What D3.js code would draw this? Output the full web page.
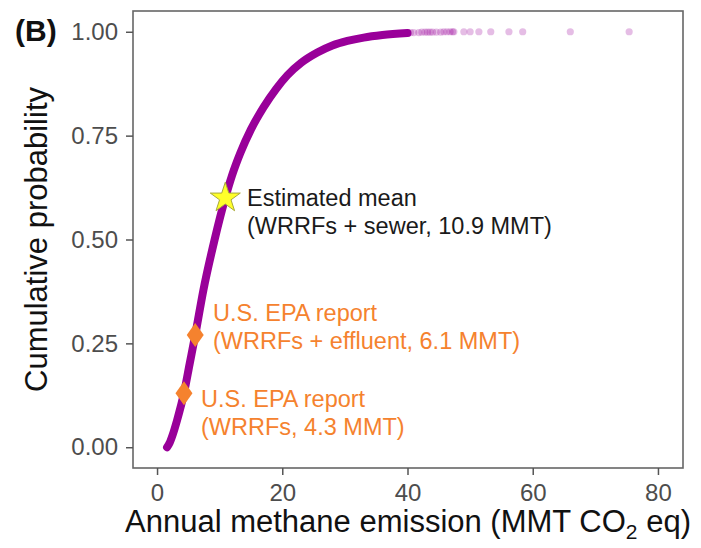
<!DOCTYPE html>
<html>
<head>
<meta charset="utf-8">
<script src="https://cdn.jsdelivr.net/npm/d3@7"></script>
<style>
  html, body { margin: 0; padding: 0; background: #fff; }
  svg { display: block; font-family: "Liberation Sans", Arial, sans-serif; }
</style>
</head>
<body>
<svg id="chart" width="701" height="548"></svg>
<script>
// ---- data ----
const curveEmission = [1.6, 2.0, 2.5, 3.2, 4.3, 5.2, 6.1, 7.4, 9.2, 10.9, 12.0, 13.3, 15.0, 17.0, 19.0, 20.8, 23.0, 25.6, 28.0, 30.4, 33.0, 36.0, 40.0];
const curveProb     = [0.0, 0.01, 0.03, 0.065, 0.13, 0.2, 0.27, 0.378, 0.5, 0.60, 0.655, 0.708, 0.765, 0.818, 0.862, 0.895, 0.925, 0.95, 0.967, 0.978, 0.986, 0.992, 0.997];
const tailEmission  = [40.5, 41, 41.8, 42.3, 42.8, 43.2, 43.6, 44, 44.6, 45.3, 45.8, 46.3, 46.8, 47.2, 47.4, 49, 50, 51.4, 53.3, 56.2, 58.4, 66, 75.4];
const tailProb      = [0.998, 0.998, 0.998, 0.999, 0.999, 0.999, 0.999, 0.999, 0.999, 0.999, 1, 1, 1, 1, 1, 1, 1, 1, 1, 1, 1, 1, 1];

const markerLabels = ["Estimated mean", "U.S. EPA report", "U.S. EPA report"];
const markerNotes  = ["(WRRFs + sewer, 10.9 MMT)", "(WRRFs + effluent, 6.1 MMT)", "(WRRFs, 4.3 MMT)"];
const markerEmission = [10.9, 6.1, 4.3];
const markerProb     = [0.60, 0.27, 0.13];
const markerKind     = ["star", "diamond", "diamond"];

const xTicks = [0, 20, 40, 60, 80];
const yTicks = [0, 0.25, 0.5, 0.75, 1.0];
const xTitle = "Annual methane emission (MMT CO";
const yTitle = "Cumulative probability";
const panelTag = "(B)";

// ---- layout ----
const svg = d3.select("#chart");
const P = { left: 133, right: 683, top: 11, bottom: 468 };
const x = d3.scaleLinear().domain([-3.84, 84]).range([P.left, P.right]);
const y = d3.scaleLinear().domain([-0.05, 1.05]).range([P.bottom, P.top]);

const purple = "#990099";
const orange = "#f5822e";

// curve (dense Monte Carlo points drawn as a thick band)
const pts = curveEmission.map((e, i) => [e, curveProb[i]]);
svg.append("path")
  .datum(pts)
  .attr("d", d3.line().x(d => x(d[0])).y(d => y(d[1])).curve(d3.curveMonotoneX))
  .attr("fill", "none")
  .attr("stroke", purple)
  .attr("stroke-width", 8)
  .attr("stroke-linecap", "round")
  .attr("stroke-linejoin", "round");

// sparse tail points
svg.append("g").selectAll("circle")
  .data(tailEmission.map((e, i) => [e, tailProb[i]]))
  .join("circle")
  .attr("cx", d => x(d[0]))
  .attr("cy", d => y(d[1]))
  .attr("r", 3.6)
  .attr("fill", purple)
  .attr("fill-opacity", 0.26);

// panel border
svg.append("rect")
  .attr("x", P.left).attr("y", P.top)
  .attr("width", P.right - P.left).attr("height", P.bottom - P.top)
  .attr("fill", "none").attr("stroke", "#666").attr("stroke-width", 1.6);

// axes
const xAxis = svg.append("g")
  .attr("transform", `translate(0,${P.bottom})`)
  .call(d3.axisBottom(x).tickValues(xTicks).tickFormat(d3.format("d")).tickSize(7).tickPadding(9));
const yAxis = svg.append("g")
  .attr("transform", `translate(${P.left},0)`)
  .call(d3.axisLeft(y).tickValues(yTicks).tickFormat(d3.format(".2f")).tickSize(7).tickPadding(8));
[xAxis, yAxis].forEach(g => {
  g.select(".domain").remove();
  g.selectAll(".tick line").attr("stroke", "#555").attr("stroke-width", 1.5);
  g.selectAll(".tick text").attr("fill", "#4d4d4d").attr("font-size", 24)
    .attr("font-family", "'Liberation Sans', Arial, sans-serif");
});

// markers
const starPath = d3.symbol(d3.symbolStar).size(280)();
const diamondPath = "M0,-12L8.5,0L0,12L-8.5,0Z";
const mk = svg.append("g");
markerEmission.forEach((e, i) => {
  const g = mk.append("g").attr("transform", `translate(${x(e)},${y(markerProb[i])})`);
  if (markerKind[i] === "star") {
    g.append("path").attr("d", starPath).attr("fill", "#ffff2a").attr("stroke", "#a8a83c").attr("stroke-width", 1);
  } else {
    g.append("path").attr("d", diamondPath).attr("fill", orange);
  }
});

// annotation text
const labelPos = [ {x: 247, y: 206}, {x: 213, y: 321}, {x: 201, y: 407} ];
const labelCol = ["#1a1a1a", orange, orange];
markerLabels.forEach((t, i) => {
  const tx = svg.append("text")
    .attr("x", labelPos[i].x).attr("y", labelPos[i].y)
    .attr("font-size", 23.5).attr("fill", labelCol[i]);
  tx.append("tspan").attr("x", labelPos[i].x).text(t);
  tx.append("tspan").attr("x", labelPos[i].x).attr("dy", 28).text(markerNotes[i]);
});

// axis titles
const xt = svg.append("text")
  .attr("x", (P.left + P.right) / 2).attr("y", 532)
  .attr("text-anchor", "middle")
  .attr("font-size", 31).attr("fill", "#111");
xt.append("tspan").text(xTitle);
xt.append("tspan").attr("font-size", 21).attr("dy", 7).text("2");
xt.append("tspan").attr("dy", -7).text(" eq)");

svg.append("text")
  .attr("transform", `translate(47,${(P.top + P.bottom) / 2}) rotate(-90)`)
  .attr("text-anchor", "middle")
  .attr("font-size", 31).attr("fill", "#111")
  .text(yTitle);

svg.append("text")
  .attr("x", 15).attr("y", 41)
  .attr("font-size", 30).attr("font-weight", "bold").attr("fill", "#111")
  .text(panelTag);
</script>
</body>
</html>
